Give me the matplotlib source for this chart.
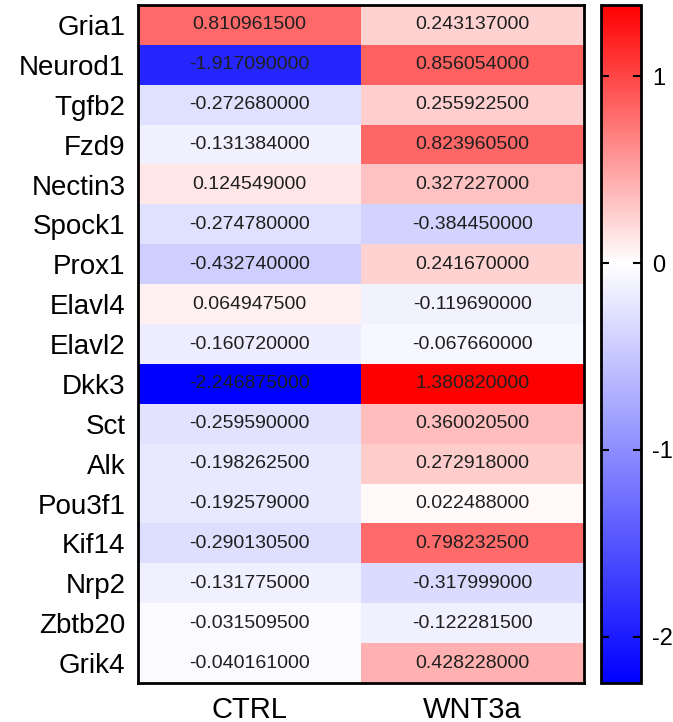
import matplotlib.pyplot as plt
import numpy as np
from matplotlib.colors import LinearSegmentedColormap, Normalize

plt.rcParams['font.family'] = ['Liberation Sans', 'DejaVu Sans']

genes = ["Gria1", "Neurod1", "Tgfb2", "Fzd9", "Nectin3", "Spock1", "Prox1",
         "Elavl4", "Elavl2", "Dkk3", "Sct", "Alk", "Pou3f1", "Kif14", "Nrp2",
         "Zbtb20", "Grik4"]
grupos = ["CTRL", "WNT3a"]

ctrl = [0.8109615, -1.91709, -0.27268, -0.131384, 0.124549, -0.27478, -0.43274,
        0.0649475, -0.16072, -2.246875, -0.25959, -0.1982625, -0.192579,
        -0.2901305, -0.131775, -0.0315095, -0.040161]
wnt3a = [0.243137, 0.856054, 0.2559225, 0.8239605, 0.327227, -0.38445, 0.24167,
         -0.11969, -0.06766, 1.38082, 0.3600205, 0.272918, 0.022488, 0.7982325,
         -0.317999, -0.1222815, 0.428228]

dados = np.column_stack([ctrl, wnt3a])
vmin, vmax = dados.min(), dados.max()

# mapa azul -> branco (no zero) -> vermelho
meio = -vmin / (vmax - vmin)
cmap = LinearSegmentedColormap.from_list(
    "bwr_custom", [(0, "#0000ff"), (meio, "#ffffff"), (1, "#ff0000")])
norm = Normalize(vmin=vmin, vmax=vmax)

fig = plt.figure(figsize=(6.73, 7.22), dpi=100)
ax = fig.add_axes([0.205, 0.054, 0.663, 0.939])
cax = fig.add_axes([0.893, 0.054, 0.059, 0.939])

im = ax.imshow(dados, cmap=cmap, norm=norm, aspect='auto', interpolation='nearest')

for i in range(len(genes)):
    for j in range(len(grupos)):
        ax.text(j, i, f"{dados[i, j]:.9f}", ha='center', va='center',
                fontsize=14, color='#1f1f1f')

ax.set_yticks(range(len(genes)))
ax.set_yticklabels(genes, fontsize=20)
ax.set_xticks(range(len(grupos)))
ax.set_xticklabels(grupos, fontsize=21)
ax.tick_params(length=0, pad=9)
for s in ax.spines.values():
    s.set_linewidth(2)

cbar = fig.colorbar(im, cax=cax)
cbar.set_ticks([1, 0, -1, -2])
cbar.ax.set_yticklabels(["1", "0", "-1", "-2"], fontsize=17)
cbar.ax.tick_params(direction='in', left=True, right=True, length=6, width=1.5, pad=8)
cbar.outline.set_linewidth(2)

plt.savefig("out.png", dpi=100)
